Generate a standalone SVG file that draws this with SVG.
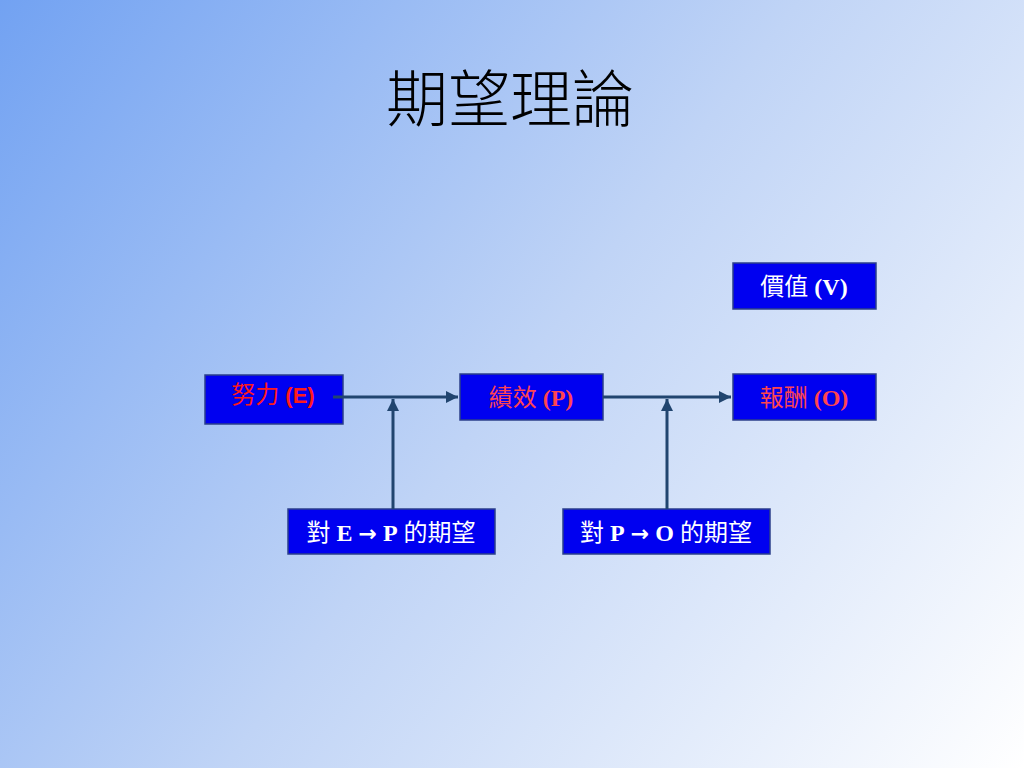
<svg xmlns="http://www.w3.org/2000/svg" width="1024" height="768" viewBox="0 0 1024 768">
<defs>
<linearGradient id="bg" x1="0" y1="0" x2="1024" y2="768" gradientUnits="userSpaceOnUse">
<stop offset="0" stop-color="#72a2f2"/>
<stop offset="0.5" stop-color="#c0d4f6"/>
<stop offset="1" stop-color="#ffffff"/>
</linearGradient>
<marker id="arr" viewBox="0 0 10 10" refX="10" refY="5" markerWidth="4" markerHeight="4" orient="auto" markerUnits="strokeWidth">
<path d="M0,0 L10,5 L0,10 z" fill="#21456f"/>
</marker>
<style>
.box{fill:#0000f0;stroke:#2b3f8a;stroke-width:1.5}
.t{font-family:"Liberation Serif","Noto Sans CJK TC",serif;font-size:24px;text-anchor:middle}
.cjk{font-family:"Noto Sans CJK TC",sans-serif}
.b{font-weight:bold}
.ar{font-family:"DejaVu Sans",sans-serif;font-weight:bold;font-size:22px}
.red{fill:#ff1a1a}
.pink{fill:#ff4450}
.white{fill:#ffffff}
.c{stroke:#21456f;stroke-width:3;fill:none;marker-end:url(#arr)}
</style>
</defs>
<rect width="1024" height="768" fill="url(#bg)"/>
<text x="510" y="122" font-family="Noto Sans CJK TC, sans-serif" font-size="62" text-anchor="middle" fill="#000" font-weight="300">期望理論</text>
<g id="node-value">
<rect class="box" x="733" y="263" width="143" height="46"/>
<text class="t white" x="804" y="295"><tspan class="cjk">價值</tspan> <tspan class="b">(V)</tspan></text>
</g>
<g id="node-effort">
<rect class="box" x="205" y="375" width="138" height="49"/>
<text class="t red" x="273" y="403"><tspan class="cjk">努力</tspan> <tspan class="b" font-family="Liberation Sans, sans-serif" font-size="22">(E)</tspan></text>
</g>
<g id="node-performance">
<rect class="box" x="460" y="374" width="143" height="46"/>
<text class="t pink" x="531" y="406"><tspan class="cjk">績效</tspan> <tspan class="b">(P)</tspan></text>
</g>
<g id="node-outcome">
<rect class="box" x="733" y="374" width="143" height="46"/>
<text class="t pink" x="804" y="406"><tspan class="cjk">報酬</tspan> <tspan class="b">(O)</tspan></text>
</g>
<g id="node-ep">
<rect class="box" x="288" y="509" width="207" height="45"/>
<text class="t white" x="391" y="541"><tspan class="cjk">對</tspan> <tspan class="b">E</tspan> <tspan class="ar">→</tspan> <tspan class="b">P</tspan> <tspan class="cjk">的期望</tspan></text>
</g>
<g id="node-po">
<rect class="box" x="563" y="509" width="207" height="45"/>
<text class="t white" x="666" y="541"><tspan class="cjk">對</tspan> <tspan class="b">P</tspan> <tspan class="ar">→</tspan> <tspan class="b">O</tspan> <tspan class="cjk">的期望</tspan></text>
</g>
<g id="connectors">
<line class="c" x1="333" y1="397" x2="458" y2="397"/>
<line class="c" x1="603" y1="397" x2="731" y2="397"/>
<line class="c" x1="393" y1="509" x2="393" y2="399"/>
<line class="c" x1="667" y1="509" x2="667" y2="399"/>
</g>
</svg>
